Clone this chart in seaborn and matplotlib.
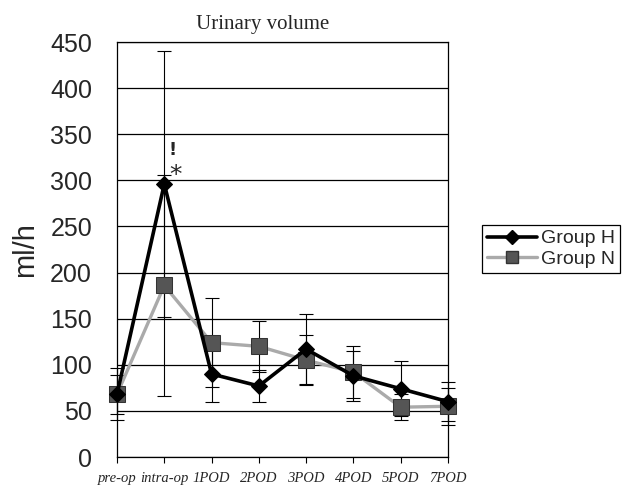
import matplotlib
matplotlib.use("Agg")
import matplotlib.pyplot as plt
import seaborn as sns
import numpy as np
import pandas as pd
from matplotlib.lines import Line2D

categories = ["pre-op", "intra-op", "1POD", "2POD", "3POD", "4POD", "5POD", "7POD"]
group_h = [68, 296, 90, 77, 117, 88, 74, 60]
group_h_sd = [28, 144, 30, 17, 38, 27, 30, 21]
group_n = [68, 186, 124, 120, 105, 92, 54, 55]
group_n_sd = [21, 120, 48, 28, 27, 28, 14, 20]
yticks = [0, 50, 100, 150, 200, 250, 300, 350, 400, 450]

df = pd.DataFrame({
    "time": categories * 2,
    "value": group_h + group_n,
    "group": ["Group H"] * len(categories) + ["Group N"] * len(categories),
})

sns.set_style("white")
fig = plt.figure(figsize=(6.25, 4.86), dpi=100)
ax = fig.add_axes([117 / 625, 1 - 457 / 486, (448 - 117) / 625, (457 - 42) / 486])

xpos = np.arange(len(categories))
for vals, sds in ((group_h, group_h_sd), (group_n, group_n_sd)):
    eb = ax.errorbar(xpos, vals, yerr=sds, fmt="none", ecolor="black",
                     elinewidth=0.8, capsize=5, capthick=0.8, zorder=2)
    for art in eb.lines[1] + eb.lines[2]:
        art.set_clip_on(False)

sns.lineplot(data=df, x="time", y="value", hue="group", style="group",
             palette={"Group H": "black", "Group N": "#aaaaaa"},
             markers={"Group H": "D", "Group N": "s"}, dashes=False,
             sort=False, ax=ax, legend=False, zorder=3)
lines = ax.get_lines()
hl = [l for l in lines if l.get_marker() == "D"][0]
nl = [l for l in lines if l.get_marker() == "s"][0]
hl.set_linewidth(2.6); hl.set_markersize(8); hl.set_markerfacecolor("black"); hl.set_markeredgecolor("black")
nl.set_linewidth(2.4); nl.set_markersize(11); nl.set_markerfacecolor("#555555"); nl.set_markeredgecolor("#333333")
nl.set_zorder(3); hl.set_zorder(4)
hl.set_clip_on(False); nl.set_clip_on(False)

ax.set_xlim(0, 7)
ax.set_ylim(0, 450)
ax.set_yticks(yticks)
ax.set_yticklabels([str(v) for v in yticks], fontsize=18, family="Liberation Sans")
ax.set_xticks(xpos)
ax.set_xticklabels(categories, fontsize=10.5, family="Liberation Serif", style="italic")
ax.tick_params(axis="x", length=4, width=0.8, color="black", direction="out", bottom=True, pad=7)
ax.tick_params(axis="y", length=0, pad=18)
ax.yaxis.grid(True, color="black", linewidth=0.9)
ax.set_axisbelow(True)
for s in ax.spines.values():
    s.set_color("black"); s.set_linewidth(0.9)
ax.set_xlabel("")
ax.set_ylabel("ml/h", fontsize=21, family="Liberation Sans", labelpad=8)

ax.text(1.18, 333, "!", fontsize=13, fontweight="bold", ha="center", va="center")
ax.text(1.24, 306, "*", fontsize=18, ha="center", va="center")

fig.text(263 / 625, 1 - 24 / 486, "Urinary volume", fontsize=15,
         family="Liberation Serif", ha="center", va="center")

handles = [Line2D([], [], color="black", lw=2.6, marker="D", markersize=7),
           Line2D([], [], color="#aaaaaa", lw=2.4, marker="s", markersize=9,
                  markerfacecolor="#555555", markeredgecolor="#333333")]
leg = fig.legend(handles, ["Group H", "Group N"], loc="upper left",
                 bbox_to_anchor=(482 / 625, 1 - 225 / 486), frameon=True,
                 fancybox=False, edgecolor="black", framealpha=1,
                 prop={"family": "Liberation Sans", "size": 14},
                 handlelength=2.6, handletextpad=0.2, borderpad=0.25,
                 labelspacing=0.15, borderaxespad=0)
leg.get_frame().set_linewidth(0.9)

fig.savefig("out.png", dpi=100)
